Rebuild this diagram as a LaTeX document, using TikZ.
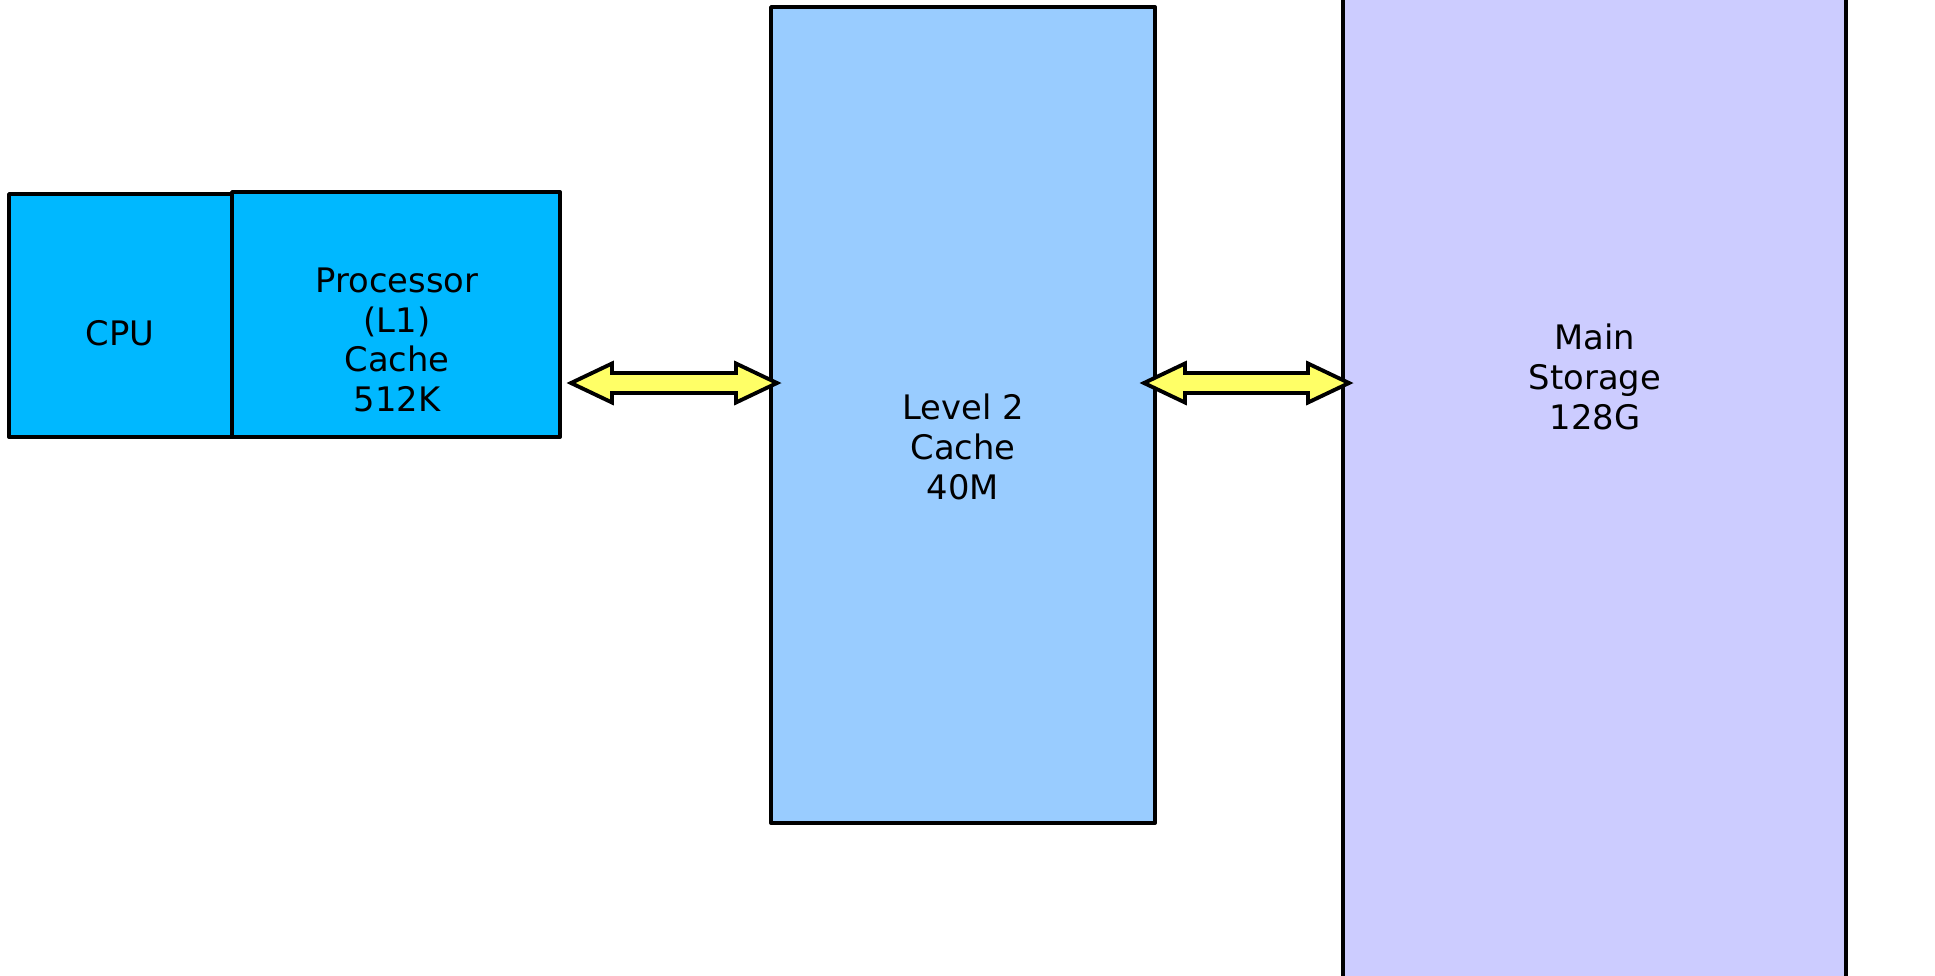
\documentclass[tikz,border=0pt]{standalone}
\usepackage{fontspec}
\setmainfont{DejaVu Sans}
\definecolor{cpublue}{RGB}{0,184,255}
\definecolor{ltwo}{RGB}{153,204,255}
\definecolor{mainst}{RGB}{204,204,255}
\definecolor{arrowyel}{RGB}{255,255,102}
\begin{document}
\begin{tikzpicture}[x=0.01cm,y=-0.01cm,
  box/.style={draw=black,line width=1.1pt,line join=round},
  lbl/.style={font=\fontsize{9.6pt}{11.3pt}\selectfont,align=center,inner sep=0pt},
  blockarrow/.style={draw=black,fill=arrowyel,line width=1.1pt,line join=miter}]
\useasboundingbox (0,0) rectangle (1935,975);
\begin{scope}
\clip (0,0) rectangle (1935,975);
% boxes
\draw[box,fill=cpublue] (9,194) rectangle (232,437);
\draw[box,fill=cpublue] (232,192) rectangle (560,437);
\draw[box,fill=ltwo] (771,7) rectangle (1155,823);
\draw[box,fill=mainst] (1343,-20) rectangle (1846,995);
\end{scope}
\node[lbl] (cputext) at (120,333) {CPU};
\node[lbl] (lonetext) at (397,340) {Processor\\(L1)\\Cache\\512K};
\node[lbl] (ltwotext) at (963,447) {Level 2\\Cache\\40M};
\node[lbl] (maintext) at (1595,377) {Main\\Storage\\128G};
% double block arrows
\draw[blockarrow] (571,383) -- (612,363.5) -- (612,373) -- (736,373) -- (736,363.5)
  -- (777,383) -- (736,402.5) -- (736,393) -- (612,393) -- (612,402.5) -- cycle;
\draw[blockarrow] (1144,383) -- (1185,363.5) -- (1185,373) -- (1308,373) -- (1308,363.5)
  -- (1349,383) -- (1308,402.5) -- (1308,393) -- (1185,393) -- (1185,402.5) -- cycle;
\end{tikzpicture}
\end{document}
